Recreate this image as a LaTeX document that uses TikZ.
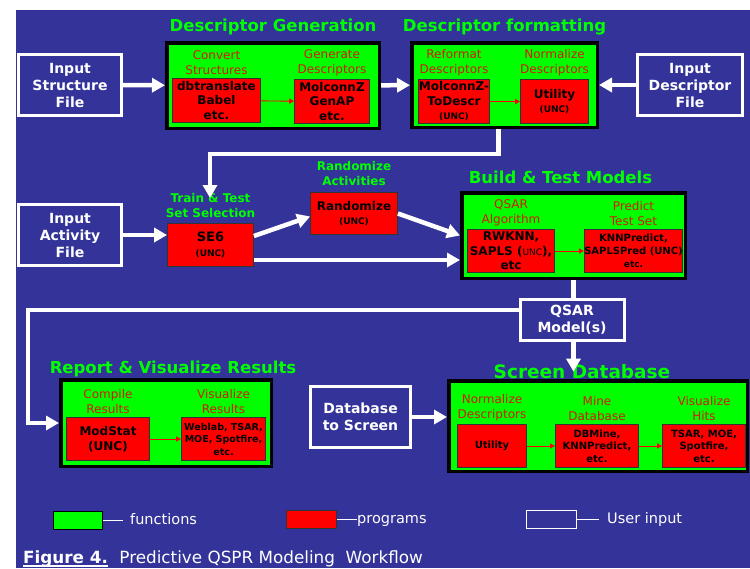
\documentclass[tikz,border=0pt]{standalone}
\usepackage{fontspec}
\setmainfont{DejaVu Sans}
\usetikzlibrary{arrows.meta, positioning}
\definecolor{bgblue}{RGB}{51,51,153}
\definecolor{fngreen}{RGB}{0,255,0}
\definecolor{lblred}{RGB}{215,25,0}
\newcommand{\smallunc}{{\fontsize{9}{11}\selectfont (UNC)}}

\begin{document}
\begin{tikzpicture}[x=1pt, y=-1pt,
    fnbox/.style={draw=black, line width=3.5pt, fill=fngreen, inner sep=0pt},
    progbox/.style={draw=black!80, line width=0.8pt, fill=red, inner sep=0pt, align=center, font=\bfseries\fontsize{12}{14.5}\selectfont},
    inbox/.style={draw=white, line width=3pt, fill=bgblue, text=white, inner sep=0pt, align=center, font=\bfseries\fontsize{14}{17}\selectfont},
    steplbl/.style={text=lblred, align=center, inner sep=0pt, font=\fontsize{12}{15}\selectfont},
    greenlbl/.style={text=fngreen, align=center, inner sep=0pt, font=\bfseries\fontsize{12}{15}\selectfont},
    grptitle/.style={text=fngreen, inner sep=0pt, font=\bfseries\fontsize{16.5}{18}\selectfont},
    bigarr/.style={white, line width=4.5pt, -{Triangle[length=13pt,width=14pt]}},
    wline/.style={white, line width=4.5pt},
    redarr/.style={red, line width=0.9pt, -{Triangle[length=5pt,width=5pt]}},
    keytxt/.style={text=white, inner ysep=0pt, inner xsep=7pt, text height=11pt, text depth=3pt, font=\fontsize{14.5}{16}\selectfont},
    captxt/.style={text=white, inner sep=0pt, anchor=base west, font=\fontsize{16.8}{18}\selectfont}]
\useasboundingbox (0,0) rectangle (750,568);
\fill[bgblue] (16,10) rectangle (750,568);

\node[fnbox, minimum width=212.5pt, minimum height=85.5pt] (gen) at (273,85.5) {};
\node[fnbox, minimum width=185.5pt, minimum height=84.5pt] (fmt) at (504.5,85) {};
\node[fnbox, minimum width=223.5pt, minimum height=85.5pt] (build) at (573.5,235.5) {};
\node[fnbox, minimum width=210.5pt, minimum height=86.5pt] (rep) at (166,423) {};
\node[fnbox, minimum width=298.5pt, minimum height=90.5pt] (scr) at (598,426) {};

\node[grptitle, above=6pt of gen] (gentitle) {Descriptor Generation};
\node[grptitle, above=6pt of fmt] (fmttitle) {Descriptor formatting};
\node[grptitle, above=7pt of build, xshift=-13pt] (buildtitle) {Build \& Test Models};
\node[grptitle, above=1pt of rep, xshift=7pt] (reptitle) {Report \& Visualize Results};
\node[grptitle, font=\bfseries\fontsize{18.5}{20}\selectfont, above=0pt of scr, xshift=-16pt] (scrtitle) {Screen Database};

\node[inbox, minimum width=103pt, minimum height=61pt] (instr) at (70,85) {Input\\Structure\\File};
\node[inbox, minimum width=105pt, minimum height=61pt] (indesc) at (690,85) {Input\\Descriptor\\File};
\node[inbox, minimum width=103pt, minimum height=61pt] (inact) at (70,235) {Input\\Activity\\File};
\node[inbox, minimum width=104pt, minimum height=41pt] (qsar) at (572,320) {QSAR\\Model(s)};
\node[inbox, minimum width=100pt, minimum height=61pt] (dbs) at (360.5,417) {Database\\to Screen};

\node[progbox, minimum width=88pt, minimum height=44pt] (conv) at (216.5,100.5) {dbtranslate\\Babel\\etc.};
\node[progbox, minimum width=75pt, minimum height=44pt] (gendesc) at (332,101.5) {MolconnZ\\GenAP\\etc.};
\node[progbox, minimum width=69pt, minimum height=44pt] (reform) at (454,101.5) {MolconnZ-\\ToDescr\\\smallunc};
\node[progbox, minimum width=68pt, minimum height=44pt] (normu) at (554.5,101.5) {Utility\\\smallunc};
\node[progbox, minimum width=87pt, minimum height=42pt] (rnd) at (354,213.5) {Randomize\\\smallunc};
\node[progbox, minimum width=86pt, minimum height=43pt, font=\bfseries\fontsize{13}{15}\selectfont] (se6) at (210.5,245) {SE6\\\smallunc};
\node[progbox, minimum width=87pt, minimum height=43pt] (rwknn) at (511,251) {RWKNN,\\SAPLS ({\mdseries\fontsize{9}{9}\selectfont UNC}),\\etc};
\node[progbox, minimum width=94pt, minimum height=43pt, font=\bfseries\fontsize{10}{13}\selectfont] (knnp) at (633.5,251) {KNNPredict,\\SAPLSPred (UNC)\\{\fontsize{9}{9}\selectfont etc.}};
\node[progbox, minimum width=83pt, minimum height=43pt] (modstat) at (108,439) {ModStat\\(UNC)};
\node[progbox, minimum width=84pt, minimum height=43pt, font=\bfseries\fontsize{9.5}{12.5}\selectfont] (weblab) at (223.5,439) {Weblab, TSAR,\\MOE, Spotfire,\\etc.};
\node[progbox, minimum width=69pt, minimum height=43pt, font=\bfseries\fontsize{10}{12.5}\selectfont] (scrutil) at (492,446) {Utility};
\node[progbox, minimum width=83pt, minimum height=43pt, font=\bfseries\fontsize{10}{12.5}\selectfont] (dbmine) at (597,446) {DBMine,\\KNNPredict,\\etc.};
\node[progbox, minimum width=83pt, minimum height=43pt, font=\bfseries\fontsize{10}{12.5}\selectfont] (tsar) at (704,446) {TSAR, MOE,\\Spotfire,\\etc.};

\node[steplbl, above=3pt of conv] (convlbl) {Convert\\Structures};
\node[steplbl, above=3pt of gendesc] (gendesclbl) {Generate\\Descriptors};
\node[steplbl, above=3pt of reform] (reformlbl) {Reformat\\Descriptors};
\node[steplbl, above=3pt of normu] (normulbl) {Normalize\\Descriptors};
\node[steplbl, above=3pt of rwknn] (rwknnlbl) {QSAR\\Algorithm};
\node[steplbl, above=3pt of knnp] (knnplbl) {Predict\\Test Set};
\node[steplbl, above=3pt of modstat] (modstatlbl) {Compile\\Results};
\node[steplbl, above=3pt of weblab] (weblablbl) {Visualize\\Results};
\node[steplbl, above=3pt of scrutil] (scrutillbl) {Normalize\\Descriptors};
\node[steplbl, above=3pt of dbmine] (dbminelbl) {Mine\\Database};
\node[steplbl, above=3pt of tsar] (tsarlbl) {Visualize\\Hits};
\node[greenlbl, above=5pt of se6] (tsellbl) {Train \& Test\\Set Selection};
\node[greenlbl, above=6pt of rnd] (rndlbl) {Randomize\\Activities};
\coordinate (tseltip) at (210,198);

\draw[bigarr] (instr) -- (gen);
\draw[bigarr] (gen) -- (fmt);
\draw[bigarr] (indesc) -- (fmt);
\draw[bigarr] ([xshift=-6pt]fmt.south) |- ([yshift=44pt]tseltip) -- (tseltip);
\draw[bigarr] (inact.east) -- (inact.east -| se6.west);
\draw[bigarr] ([yshift=9pt]se6.east) -- ([yshift=-3pt]rnd.west);
\draw[bigarr] ([yshift=-15pt]se6.east) -- ([yshift=-15pt]se6.east -| build.west);
\draw[bigarr] (rnd.east) -- (build.west);
\draw[wline] (build.south) -- (build.south |- qsar.north);
\draw[bigarr] (qsar.south -| build.south) -- (build.south |- scrtitle);
\draw[bigarr] ([yshift=10pt]qsar.west) -| ([xshift=-31pt]rep.west) -- (rep.west);
\draw[bigarr] (dbs.east) -- (dbs.east -| scr.west);

\draw[redarr] (conv) -- (gendesc);
\draw[redarr] (reform) -- (normu);
\draw[redarr] (rwknn) -- (knnp);
\draw[redarr] (modstat) -- (weblab);
\draw[redarr] (scrutil) -- (dbmine);
\draw[redarr] (dbmine) -- (tsar);

\node[fnbox, line width=1pt, minimum width=49pt, minimum height=18pt] (keyfn) at (78,520.5) {};
\node[progbox, line width=1pt, minimum width=50pt, minimum height=18pt] (keyprog) at (311.5,519.5) {};
\node[inbox, line width=1pt, minimum width=50pt, minimum height=18pt] (keyuser) at (551.5,519.5) {};
\node[keytxt, right=20pt of keyfn] (keyfntxt) {functions};
\node[keytxt, right=20pt of keyprog, inner xsep=0pt] (keyprogtxt) {programs};
\node[keytxt, right=22pt of keyuser, inner xsep=8pt] (keyusertxt) {User input};
\draw[white, line width=1pt] (keyfn) -- (keyfntxt);
\draw[white, line width=1pt] (keyprog) -- (keyprogtxt);
\draw[white, line width=1pt] (keyuser) -- (keyusertxt);

\node[captxt, font=\bfseries\fontsize{16.8}{18}\selectfont] (figlbl) at (23,563.5) {Figure 4.};
\node[captxt, right=11pt of figlbl.base east, anchor=base west] (figtxt) {Predictive QSPR Modeling\ \ Workflow};
\draw[white, line width=1.3pt] ([yshift=-2.5pt]figlbl.base west) -- ([yshift=-2.5pt]figlbl.base east);
\end{tikzpicture}
\end{document}
